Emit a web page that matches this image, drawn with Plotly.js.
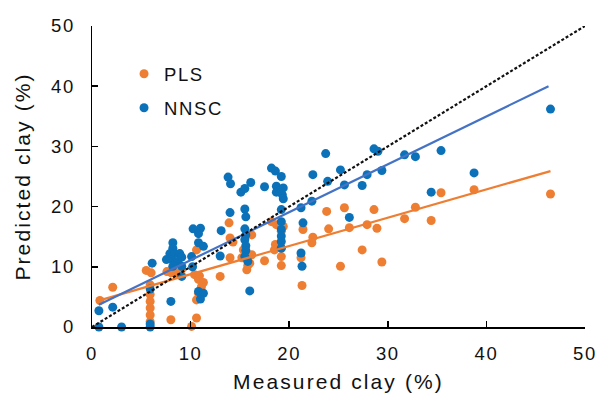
<!DOCTYPE html>
<html>
<head>
<meta charset="utf-8">
<script src="https://cdn.plot.ly/plotly-3.0.1.min.js"></script>
<style>
html,body{margin:0;padding:0;background:#fff;}
#chart{width:599px;height:394px;}
#chart .xtick text, #chart .ytick text, #chart .legendtext {letter-spacing:1.6px;}
#chart .xtitle, #chart .ytitle {letter-spacing:2.1px;}
</style>
</head>
<body>
<div id="chart"></div>
<script>
// PLS predictions (measured, predicted)
const plsMeasured = [0.8,2.1,5.5,6.0,5.9,5.9,5.9,5.9,5.9,5.9,8.0,10.1,10.6,7.6,8.05,8.2,8.6,9.1,10.4,10.9,10.8,11.3,11.1,10.8,10.6,10.6,13.0,13.9,14.0,14.3,14.0,15.2,15.7,16.0,16.2,15.7,15.8,16.2,15.35,17.5,18.2,18.7,19.4,19.2,18.6,19.2,18.5,19.2,19.2,21.4,21.2,21.3,22.4,22.3,23.8,24.0,25.6,26.1,25.2,27.4,27.9,28.6,28.9,29.4,31.7,32.8,34.4,35.4,38.75,46.5];
const plsPredicted = [4.4,6.6,9.4,9.0,7.0,5.4,4.25,3.15,2.0,0.9,1.2,0.1,1.5,9.2,9.0,9.8,9.0,9.6,8.7,8.5,7.9,7.4,6.7,5.6,4.5,12.8,8.4,17.3,14.8,14.1,11.5,11.5,11.7,10.6,12.0,9.5,10.2,15.3,12.8,11.0,17.5,17.0,16.7,15.9,13.7,13.1,12.8,11.7,10.2,16.2,11.5,6.9,14.9,14.0,19.2,16.3,19.8,16.5,10.1,12.8,17.0,19.5,16.4,10.8,18.0,19.9,17.7,22.3,22.8,22.1];
// NNSC predictions (measured, predicted)
const nnscMeasured = [0.7,0.7,2.1,3.0,5.9,5.9,5.9,6.1,8.0,8.2,8.2,7.9,8.4,8.9,7.55,8.1,8.7,8.2,9.1,9.1,9.1,10.1,10.25,11.0,10.8,10.8,11.3,10.8,11.3,11.0,10.2,13.0,13.1,13.8,14.05,14.0,15.1,15.5,16.1,15.5,15.6,15.5,15.6,15.5,15.6,15.6,15.5,15.8,16.0,17.5,18.2,18.6,19.2,18.7,19.4,18.7,19.3,19.4,19.2,19.2,19.2,19.2,19.2,19.2,21.2,21.4,22.3,21.2,21.3,22.4,23.7,23.9,25.2,25.6,26.1,27.4,27.9,28.6,29.0,29.4,31.7,32.8,34.4,35.4,38.75,46.5];
const nnscPredicted = [0,2.7,3.3,0,0,0.5,6.3,10.6,4.25,14.0,13.1,12.2,12.2,12.2,11.2,11.2,10.9,10.1,10.1,8.4,11.6,11.7,16.3,16.4,15.5,14.0,13.4,5.9,5.6,4.65,10.0,11.8,16.0,24.9,23.8,19.0,22.4,23.0,24.0,19.6,18.3,16.3,15.3,14.5,13.5,12.7,11.7,10.9,6.0,23.3,26.4,25.9,25.0,23.4,23.1,22.4,22.0,21.3,19.5,17.5,16.2,15.1,14.2,13.1,19.8,17.3,20.9,12.3,10.1,25.3,28.8,24.2,26.1,23.6,18.2,23.5,25.3,29.6,29.2,26.0,28.6,28.3,22.4,29.3,25.6,36.2];
// Fitted regression lines (end points)
const plsFitX = [0.5, 46.5];
const plsFitY = [4.3, 25.9];
const nnscFitX = [0.7, 46.3];
const nnscFitY = [3.7, 40.0];
// 1:1 line
const oneToOne = [0, 50];
const tickVals = [0, 10, 20, 30, 40, 50];

const orange = '#EE7E32';
const blue = '#0B72B9';
const fitBlue = '#4472C4';
const FONT = 'Liberation Sans, Arial, sans-serif';

const traces = [
  {x: plsMeasured, y: plsPredicted, type: 'scatter', mode: 'markers', name: 'PLS',
   legendgroup: 'a', marker: {color: orange, size: 9}, cliponaxis: false},
  {x: nnscMeasured, y: nnscPredicted, type: 'scatter', mode: 'markers', name: 'NNSC',
   legendgroup: 'b', marker: {color: blue, size: 9}, cliponaxis: false},
  {x: plsFitX, y: plsFitY, type: 'scatter', mode: 'lines', showlegend: false,
   line: {color: orange, width: 2.2}},
  {x: nnscFitX, y: nnscFitY, type: 'scatter', mode: 'lines', showlegend: false,
   line: {color: fitBlue, width: 2.2}},
  {x: oneToOne, y: oneToOne, type: 'scatter', mode: 'lines', showlegend: false,
   line: {color: '#111', width: 2.2, dash: '3px,2px'}}
];

const axisCommon = {
  range: [0, 50], tickvals: tickVals, ticks: 'inside', ticklen: 6, tickwidth: 1.5,
  tickcolor: '#000', showline: true, linecolor: '#000', linewidth: 1.5,
  showgrid: false, zeroline: false, mirror: false,
  tickfont: {family: FONT, size: 18.5, color: '#111'}
};

const layout = {
  width: 599, height: 394,
  margin: {l: 92, r: 14, t: 26, b: 67},
  paper_bgcolor: '#fff', plot_bgcolor: '#fff',
  showlegend: true,
  legend: {x: 0.065, y: 0.903, xanchor: 'left', yanchor: 'top', bgcolor: 'rgba(0,0,0,0)',
    font: {family: FONT, size: 18.5, color: '#111'},
    traceorder: 'grouped', tracegroupgap: 7},
  xaxis: Object.assign({}, axisCommon, {
    ticklabelstandoff: 9,
    title: {text: 'Measured clay (%)', font: {family: FONT, size: 21, color: '#111'}, standoff: 11}
  }),
  yaxis: Object.assign({}, axisCommon, {
    ticklabelstandoff: 12,
    title: {text: 'Predicted clay (%)', font: {family: FONT, size: 21, color: '#111'}, standoff: 18}
  })
};

Plotly.newPlot('chart', traces, layout, {displayModeBar: false, staticPlot: true});
</script>
</body>
</html>
